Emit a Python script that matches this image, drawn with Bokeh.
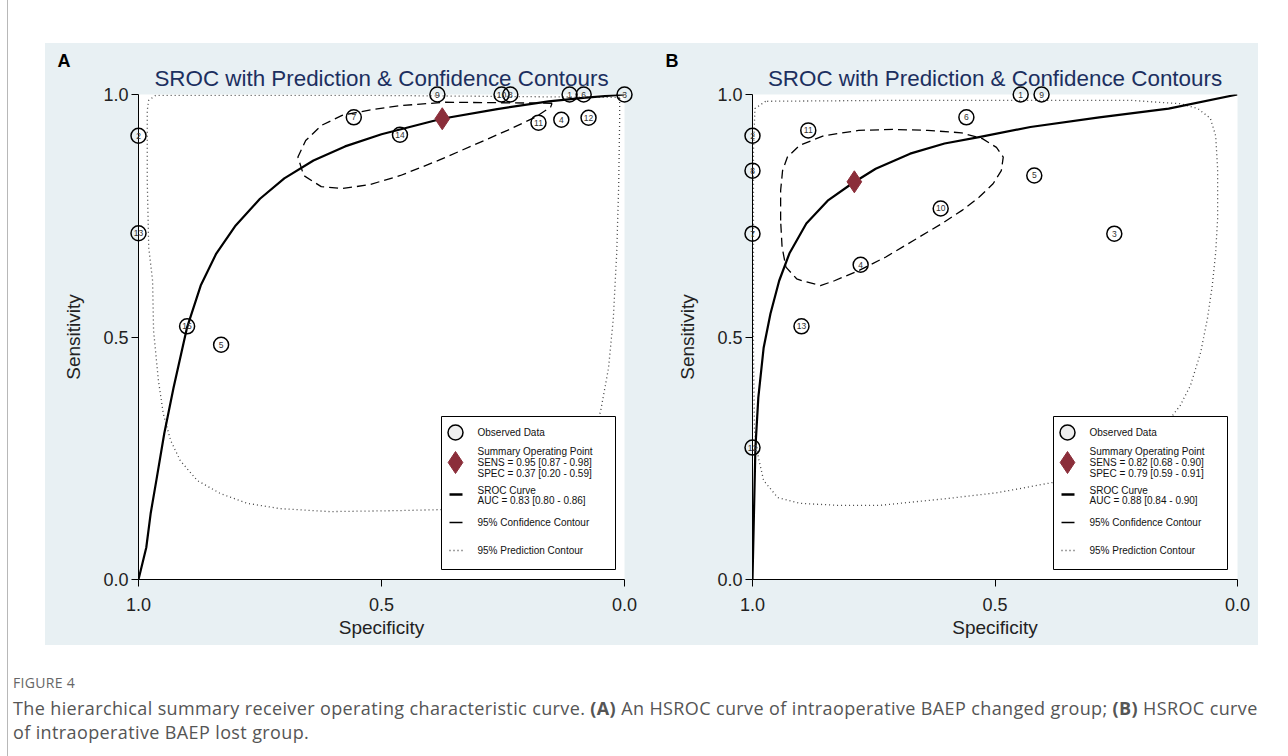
from bokeh.plotting import figure
from bokeh.models import Range1d, Spacer, Div, FixedTicker, NumeralTickFormatter
from bokeh.layouts import row, column
from bokeh.embed import file_html
from bokeh.resources import INLINE
from bokeh.core.properties import value

# ---------------- data: panel A ----------------
a_study = ["1", "2", "3", "4", "5", "6", "7", "8", "9", "10", "11", "12", "13", "14", "15"]
a_spec = [0.113, 1.0, 0.0, 0.130, 0.830, 0.084, 0.557, 0.235, 0.385, 0.253, 0.177, 0.074, 1.0, 0.462, 0.900]
a_sens = [1.0, 0.915, 1.0, 0.948, 0.484, 1.0, 0.953, 1.0, 1.0, 1.0, 0.942, 0.952, 0.714, 0.917, 0.522]
a_sum_spec = [0.375]
a_sum_sens = [0.95]
a_curve_spec = [1.0, 0.984, 0.975, 0.963, 0.947, 0.928, 0.900, 0.872, 0.840, 0.800, 0.750, 0.700, 0.640, 0.575, 0.500, 0.376, 0.262, 0.156, 0.085, 0.0]
a_curve_sens = [0.0, 0.066, 0.136, 0.206, 0.301, 0.395, 0.520, 0.606, 0.672, 0.730, 0.785, 0.827, 0.864, 0.893, 0.918, 0.950, 0.970, 0.986, 0.993, 1.0]
a_conf_spec = [0.149, 0.369, 0.461, 0.525, 0.581, 0.624, 0.656, 0.672, 0.660, 0.624, 0.581, 0.525, 0.461, 0.383, 0.312, 0.241, 0.184, 0.152, 0.149]
a_conf_sens = [0.982, 0.984, 0.977, 0.968, 0.957, 0.936, 0.905, 0.871, 0.833, 0.810, 0.806, 0.814, 0.833, 0.864, 0.895, 0.926, 0.953, 0.974, 0.982]
a_pred_spec = [0.010, 0.502, 0.965, 0.979, 0.982, 0.982, 0.979, 0.971, 0.969, 0.959, 0.949, 0.934, 0.914, 0.879, 0.831, 0.776, 0.708, 0.605, 0.467, 0.379, 0.255, 0.163, 0.101, 0.066, 0.049, 0.033, 0.023, 0.016, 0.012, 0.010, 0.010]
a_pred_sens = [0.994, 0.998, 0.998, 0.988, 0.967, 0.823, 0.685, 0.616, 0.513, 0.410, 0.342, 0.287, 0.245, 0.204, 0.177, 0.157, 0.146, 0.140, 0.142, 0.144, 0.157, 0.184, 0.235, 0.287, 0.348, 0.435, 0.538, 0.674, 0.812, 0.946, 0.994]
a_legend = ["Observed Data", "Summary Operating Point", "SENS = 0.95 [0.87 - 0.98]", "SPEC = 0.37 [0.20 - 0.59]",
            "SROC Curve", "AUC = 0.83 [0.80 - 0.86]", "95% Confidence Contour", "95% Prediction Contour"]

# ---------------- data: panel B ----------------
b_study = ["1", "2", "3", "4", "5", "6", "7", "8", "9", "10", "11", "12", "13"]
b_spec = [0.447, 1.0, 0.254, 0.777, 0.419, 0.559, 1.0, 1.0, 0.404, 0.612, 0.885, 1.0, 0.899]
b_sens = [1.0, 0.915, 0.713, 0.649, 0.833, 0.953, 0.713, 0.843, 1.0, 0.765, 0.926, 0.272, 0.522]
b_sum_spec = [0.79]
b_sum_sens = [0.82]
b_curve_spec = [1.0, 0.997, 0.994, 0.988, 0.977, 0.963, 0.945, 0.924, 0.889, 0.845, 0.794, 0.746, 0.675, 0.604, 0.533, 0.427, 0.285, 0.142, 0.0]
b_curve_sens = [0.0, 0.136, 0.272, 0.375, 0.478, 0.548, 0.616, 0.672, 0.734, 0.781, 0.817, 0.847, 0.878, 0.899, 0.912, 0.933, 0.953, 0.971, 1.0]
b_conf_spec = [0.942, 0.942, 0.938, 0.928, 0.903, 0.853, 0.781, 0.711, 0.639, 0.569, 0.526, 0.497, 0.483, 0.487, 0.504, 0.533, 0.568, 0.611, 0.668, 0.725, 0.781, 0.831, 0.860, 0.898, 0.909, 0.931, 0.939, 0.942]
b_conf_sens = [0.740, 0.802, 0.843, 0.871, 0.895, 0.915, 0.926, 0.928, 0.926, 0.921, 0.909, 0.891, 0.871, 0.843, 0.816, 0.788, 0.761, 0.733, 0.699, 0.665, 0.637, 0.616, 0.606, 0.616, 0.620, 0.644, 0.685, 0.740]
b_pred_spec = [0.973, 0.995, 0.998, 0.998, 0.998, 0.996, 0.988, 0.977, 0.948, 0.901, 0.825, 0.736, 0.598, 0.495, 0.381, 0.241, 0.159, 0.134, 0.118, 0.097, 0.076, 0.062, 0.052, 0.045, 0.041, 0.041, 0.045, 0.056, 0.082, 0.118, 0.221, 0.695, 0.973]
b_pred_sens = [0.986, 0.971, 0.885, 0.678, 0.472, 0.307, 0.252, 0.204, 0.169, 0.157, 0.153, 0.153, 0.167, 0.179, 0.200, 0.256, 0.318, 0.338, 0.359, 0.400, 0.468, 0.538, 0.606, 0.674, 0.744, 0.847, 0.915, 0.951, 0.971, 0.981, 0.988, 0.988, 0.986]
b_legend = ["Observed Data", "Summary Operating Point", "SENS = 0.82 [0.68 - 0.90]", "SPEC = 0.79 [0.59 - 0.91]",
            "SROC Curve", "AUC = 0.88 [0.84 - 0.90]", "95% Confidence Contour", "95% Prediction Contour"]

tick_values = [0.0, 0.5, 1.0]
title_text = "SROC with Prediction & Confidence Contours"

BG = "#e8f0f3"
FONT = "Liberation Sans"
NAVY = "#1c2f5f"
RED = "#8b2e3a"


def panel(letter, width, left, right, fw, study, spec, sens, sspec, ssens,
          cspec, csens, kspec, ksens, pspec, psens, legend):
    fh = 485
    p = figure(width=width, height=602, x_range=Range1d(1.0, 0.0), y_range=Range1d(0.0, 1.0),
               output_backend="svg", toolbar_location=None,
               min_border_left=left, min_border_right=right, min_border_top=51, min_border_bottom=66,
               background_fill_color="white", border_fill_color=BG, outline_line_color=None)
    p.grid.visible = False
    p.title.text = title_text
    p.title.align = "center"
    p.title.text_font = FONT
    p.title.text_font_size = "22.4px"
    p.title.text_font_style = "normal"
    p.title.text_color = NAVY
    p.title.standoff = 7
    for ax in (p.xaxis[0], p.yaxis[0]):
        ax.ticker = FixedTicker(ticks=tick_values)
        ax.formatter = NumeralTickFormatter(format="0.0")
        ax.minor_tick_line_color = None
        ax.major_tick_in = 0
        ax.major_tick_out = 7
        ax.major_tick_line_color = "black"
        ax.axis_line_color = "black"
        ax.major_label_text_font = FONT
        ax.major_label_text_font_size = "18px"
        ax.major_label_text_color = "#222222"
        ax.axis_label_text_font = FONT
        ax.axis_label_text_font_size = "19px"
        ax.axis_label_text_font_style = "normal"
        ax.axis_label_text_color = "#222222"
    p.xaxis.axis_label = "Specificity"
    p.yaxis.axis_label = "Sensitivity"
    p.yaxis.major_label_orientation = "horizontal"
    p.xaxis.major_label_standoff = 11
    p.yaxis.major_label_standoff = 3
    p.xaxis.axis_label_standoff = 3
    p.yaxis.axis_label_standoff = 16

    # prediction contour (dotted), confidence contour (dashed), SROC curve
    p.line(pspec, psens, line_color="#444444", line_width=1.3, line_dash="1 3")
    p.line(kspec, ksens, line_color="black", line_width=1.3, line_dash="9 5")
    p.line(cspec, csens, line_color="black", line_width=2.2, line_join="round")

    r1 = p.scatter(spec, sens, marker="circle", size=15, fill_alpha=0, line_color="black", line_width=1.5)
    r2 = p.text(spec, sens, text=study, text_align="center", text_baseline="middle",
                text_font=value(FONT), text_font_size="8.5px", text_color="#333333")
    r3 = p.scatter(sspec, ssens, marker="diamond", size=22, fill_color=RED, line_color=RED)
    for r in (r1, r2, r3):
        r.level = "annotation"

    # legend box (position in pixels from frame top-left)
    def dx(px):
        return 1.0 - px / fw

    def dy(py):
        return 1.0 - py / fh

    bl, bt, bw, bh = 303 if fw == 486 else 301, 322, 174, 153
    rb = p.quad(left=[dx(bl)], right=[dx(bl + bw)], top=[dy(bt)], bottom=[dy(bt + bh)],
                fill_color="white", line_color="black", line_width=1)
    ic1 = p.scatter([dx(bl + 14)], [dy(bt + 16)], marker="circle", size=15, fill_color="#eeeeee",
                    line_color="black", line_width=1.5)
    ic2 = p.scatter([dx(bl + 14)], [dy(bt + 46)], marker="diamond", size=22, fill_color=RED, line_color=RED)
    ic3 = p.segment([dx(bl + 8)], [dy(bt + 78)], [dx(bl + 21)], [dy(bt + 78)], line_color="black", line_width=2.5)
    ic4 = p.segment([dx(bl + 8)], [dy(bt + 106)], [dx(bl + 21)], [dy(bt + 106)], line_color="black", line_width=1.5)
    ic5 = p.segment([dx(bl + 8)], [dy(bt + 134)], [dx(bl + 21)], [dy(bt + 134)], line_color="#444444",
                    line_width=1.3, line_dash="1 3")
    offs = [16, 35, 46, 57, 74, 84, 106, 134]
    tx = p.text([dx(bl + 36)] * len(legend), [dy(bt + o) for o in offs], text=legend,
                text_align="left", text_baseline="middle", text_font=value(FONT),
                text_font_size="10px", text_color="#111111")
    lt = p.text([dx(-(left - 12))], [dy(-34)], text=[letter], text_align="left", text_baseline="middle",
                text_font=value(FONT), text_font_size="18px", text_font_style="bold", text_color="black")
    for r in (rb, ic1, ic2, ic3, ic4, ic5, tx, lt):
        r.level = "overlay"
    return p


pa = panel("A", 608, 93, 29, 486, a_study, a_spec, a_sens, a_sum_spec, a_sum_sens,
           a_curve_spec, a_curve_sens, a_conf_spec, a_conf_sens, a_pred_spec, a_pred_sens, a_legend)
pb = panel("B", 605, 99, 21, 485, b_study, b_spec, b_sens, b_sum_spec, b_sum_sens,
           b_curve_spec, b_curve_sens, b_conf_spec, b_conf_sens, b_pred_spec, b_pred_sens, b_legend)

caption = Div(text=(
    '<div style="font-family:\'Open Sans\';padding-left:0px;">'
    '<div style="font-size:14px;color:#666;letter-spacing:0.3px;margin-top:25px;line-height:16px;">FIGURE 4</div>'
    '<div style="font-size:18px;letter-spacing:0.38px;color:#555;line-height:24px;margin-top:5px;white-space:nowrap;">'
    'The hierarchical summary receiver operating characteristic curve. <b>(A)</b> An HSROC curve of '
    'intraoperative BAEP changed group; <b>(B)</b> HSROC curve<br>of intraoperative BAEP lost group.</div></div>'),
    width=1265, height=100)

plots = row(pa, pb, styles={"background-color": BG})
content = column(Spacer(height=43), row(Spacer(width=37), plots), caption)
border = Div(text="", width=1, height=756, margin=0, styles={"background-color": "#b8b8b8"})
layout = row(Spacer(width=7), border, content)
open("out.html", "w").write(file_html(layout, INLINE))
